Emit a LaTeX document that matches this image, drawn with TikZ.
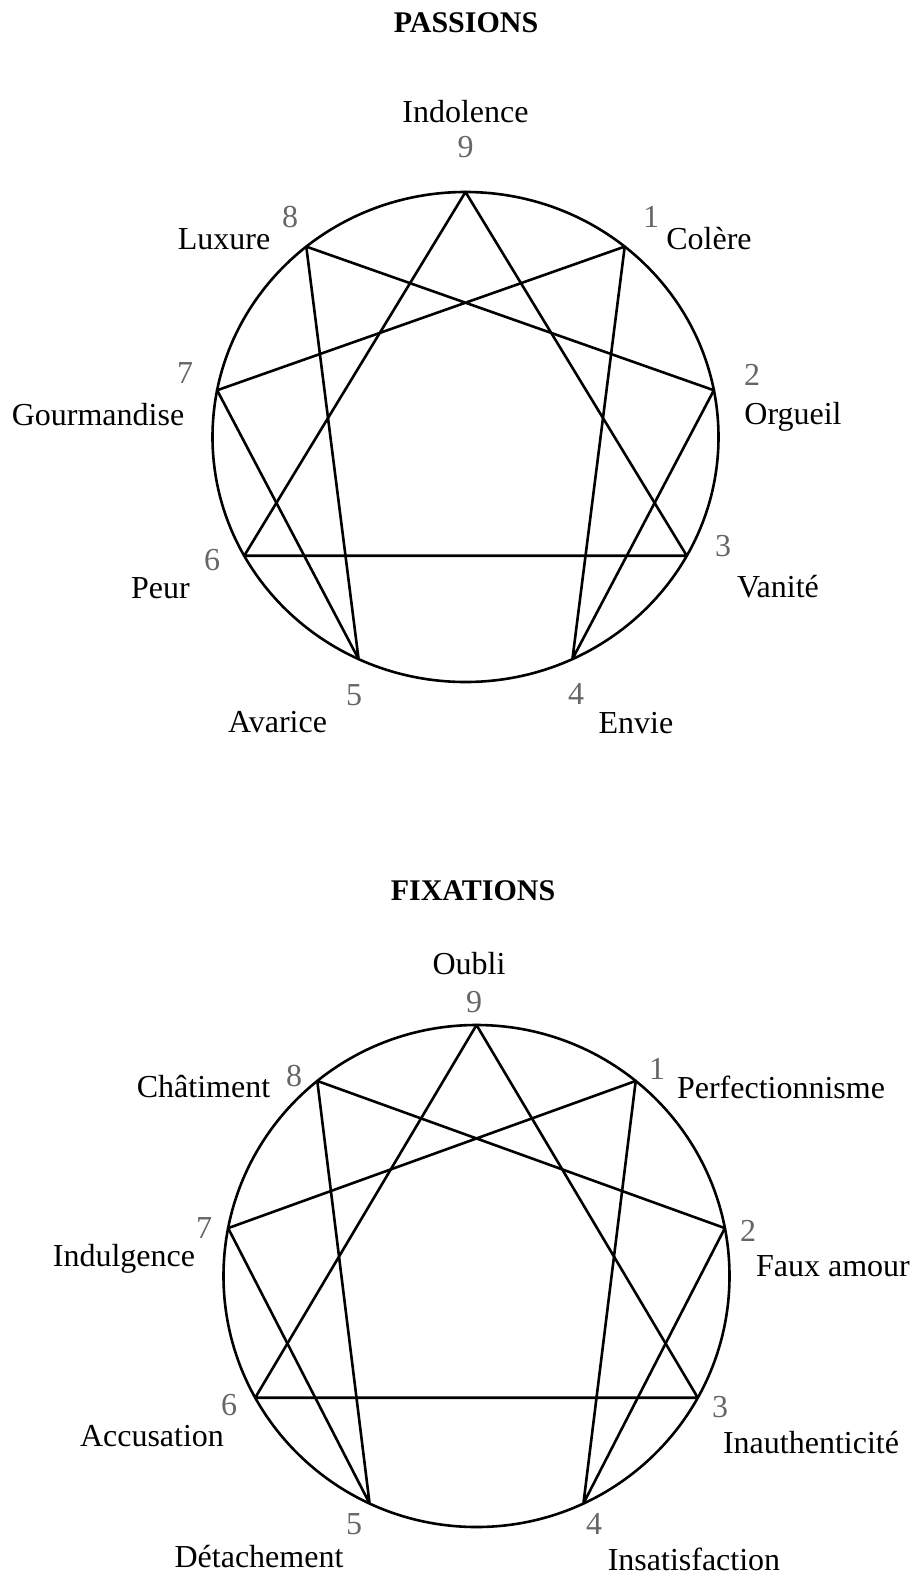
\documentclass[tikz,border=0pt]{standalone}
\usepackage{fontspec}
\setmainfont{Liberation Serif}
\usetikzlibrary{calc}
\tikzset{
  ttl/.style ={font=\fontsize{15}{18}\selectfont\bfseries, inner sep=0pt},
  lbl/.style ={font=\fontsize{16}{19}\selectfont, inner sep=0pt},
  num/.style ={font=\fontsize{16}{19}\selectfont, text=black!60, inner sep=0pt},
  ring/.style={draw=black, line width=1.3pt},
  star/.style={draw=black, line width=1.3pt, line join=round},
}
\begin{document}
\begin{tikzpicture}[x=0.5pt, y=-0.5pt]
\useasboundingbox (0,0) rectangle (916,1579);
% centres of the two figures
\coordinate (pa) at (465.5,437);
\coordinate (fx) at (476.5,1276);
% nine points on each ring
\foreach \k/\a in {9/90,1/51,2/11,3/-29,4/-65,5/-115,6/-151,7/169,8/129}{
  \coordinate (pa\k) at ($(pa)+({253*cos(\a)},{-245*sin(\a)})$);
  \coordinate (fx\k) at ($(fx)+({253*cos(\a)},{-251*sin(\a)})$);
}
% passions
\node[ttl] (patitle) at (466,23) {PASSIONS};
\draw[ring] (pa) ellipse [x radius=253, y radius=245];
\draw[star] (pa9) -- (pa3) -- (pa6) -- cycle;
\draw[star] (pa1) -- (pa4) -- (pa2) -- (pa8) -- (pa5) -- (pa7) -- cycle;
\node[lbl] (paname9) at (465.5,112) {Indolence};
\node[num] (panum9)  at (465.5,147) {9};
\node[lbl] (paname1) at (709,239) {Colère};
\node[num] (panum1)  at (651,217) {1};
\node[lbl] (paname2) at (793,417) {Orgueil};
\node[num] (panum2)  at (752,375) {2};
\node[lbl] (paname3) at (778,587) {Vanité};
\node[num] (panum3)  at (723,546) {3};
\node[lbl] (paname4) at (636,723) {Envie};
\node[num] (panum4)  at (576,694) {4};
\node[lbl] (paname5) at (277.5,722) {Avarice};
\node[num] (panum5)  at (354,695) {5};
\node[lbl] (paname6) at (160.5,588) {Peur};
\node[num] (panum6)  at (212,560) {6};
\node[lbl] (paname7) at (98,415) {Gourmandise};
\node[num] (panum7)  at (185,373) {7};
\node[lbl] (paname8) at (224,239) {Luxure};
\node[num] (panum8)  at (290,217) {8};
% fixations
\node[ttl] (fxtitle) at (473,891) {FIXATIONS};
\draw[ring] (fx) ellipse [x radius=253, y radius=251];
\draw[star] (fx9) -- (fx3) -- (fx6) -- cycle;
\draw[star] (fx1) -- (fx4) -- (fx2) -- (fx8) -- (fx5) -- (fx7) -- cycle;
\node[lbl] (fxname9) at (469,964) {Oubli};
\node[num] (fxnum9)  at (474,1002) {9};
\node[lbl] (fxname1) at (781,1087) {Perfectionnisme};
\node[num] (fxnum1)  at (657,1069) {1};
\node[lbl] (fxname2) at (833,1266) {Faux amour};
\node[num] (fxnum2)  at (748,1231) {2};
\node[lbl] (fxname3) at (811,1443) {Inauthenticité};
\node[num] (fxnum3)  at (720,1407) {3};
\node[lbl] (fxname4) at (694,1559) {Insatisfaction};
\node[num] (fxnum4)  at (594,1524) {4};
\node[lbl] (fxname5) at (259,1557) {Détachement};
\node[num] (fxnum5)  at (354,1524) {5};
\node[lbl] (fxname6) at (152,1436) {Accusation};
\node[num] (fxnum6)  at (229,1405) {6};
\node[lbl] (fxname7) at (124,1259) {Indulgence};
\node[num] (fxnum7)  at (204,1228) {7};
\node[lbl] (fxname8) at (203.5,1087) {Châtiment};
\node[num] (fxnum8)  at (294,1076) {8};
\end{tikzpicture}
\end{document}
